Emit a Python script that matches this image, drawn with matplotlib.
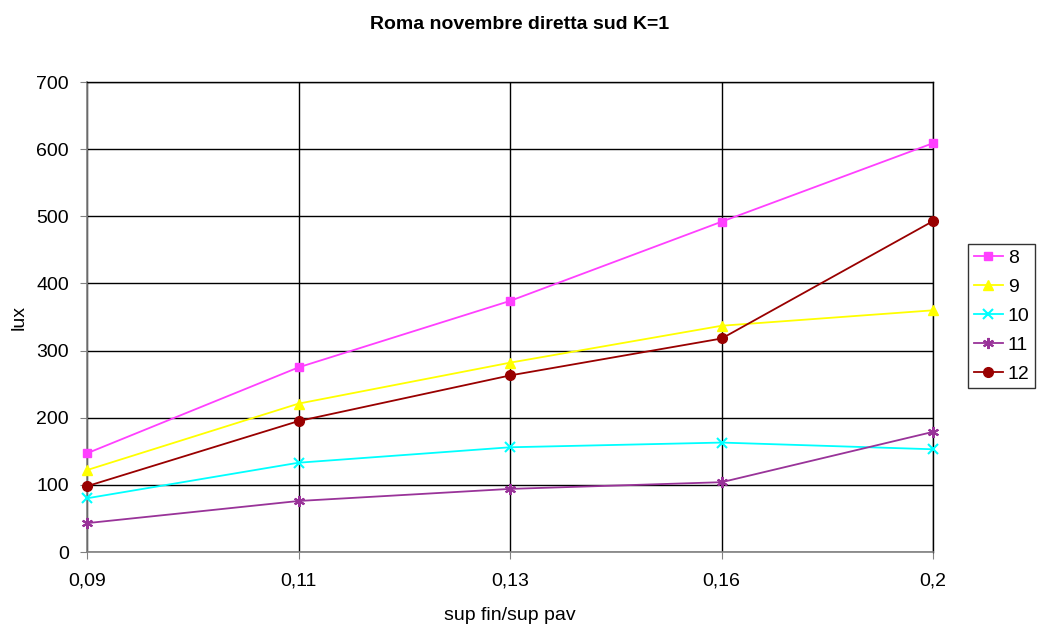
import matplotlib.pyplot as plt

plt.rcParams['font.family'] = ['Liberation Sans', 'DejaVu Sans']

categorie = ['0,09', '0,11', '0,13', '0,16', '0,2']
serie_8 = [147, 275, 374, 492, 609]
serie_9 = [122, 221, 282, 337, 360]
serie_10 = [80, 133, 156, 163, 153]
serie_11 = [43, 76, 94, 104, 179]
serie_12 = [98, 195, 263, 318, 493]

serie = [
    ('8', serie_8, '#FF40FF', 's', 6),
    ('9', serie_9, '#FFFF00', '^', 7),
    ('10', serie_10, '#00FFFF', 'x', 7),
    ('11', serie_11, '#993399', (6, 2, 0), 8),
    ('12', serie_12, '#990000', 'o', 7),
]

fig = plt.figure(figsize=(10.39, 6.27), dpi=100)
ax = fig.add_axes([0.0837, 0.1196, 0.8145, 0.7496])

x = list(range(len(categorie)))
for nome, valori, colore, marker, ms in serie:
    ax.plot(x, valori, color=colore, marker=marker, markersize=ms, linewidth=1.3,
            markeredgewidth=1.5 if marker == 'x' or isinstance(marker, tuple) else 1,
            label=nome, clip_on=False, zorder=3)

ax.set_xlim(0, len(categorie) - 1)
ax.set_ylim(0, 700)
ax.set_xticks(x)
ax.set_xticklabels(categorie)
ax.set_yticks(range(0, 701, 100))
ax.grid(True, color='black', linewidth=1)
ax.set_axisbelow(True)
ax.tick_params(labelsize=14, direction='out', length=5, color='#808080')
ax.tick_params(axis='x', pad=10)
ax.tick_params(axis='y', pad=8)
for lato in ('top', 'right'):
    ax.spines[lato].set_color('black')
    ax.spines[lato].set_linewidth(1)
for lato in ('left', 'bottom'):
    ax.spines[lato].set_color('#808080')
    ax.spines[lato].set_linewidth(1.2)

ax.set_xlabel('sup fin/sup pav', fontsize=14, labelpad=12)
ax.set_ylabel('lux', fontsize=14, labelpad=6)
fig.suptitle('Roma novembre diretta sud K=1', fontsize=14, fontweight='bold', y=0.975)

leg = ax.legend(loc='center left', bbox_to_anchor=(0.9317, 0.496), bbox_transform=fig.transFigure,
                fontsize=14, frameon=True, fancybox=False, edgecolor='black', borderpad=0.3,
                labelspacing=0.58, handlelength=1.5, handletextpad=0.25, borderaxespad=0)
leg.get_frame().set_linewidth(1)

fig.savefig('out.png', dpi=100)
